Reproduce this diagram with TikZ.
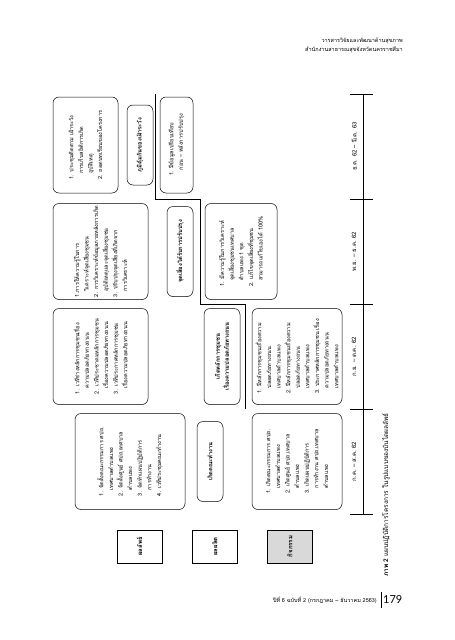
\documentclass[tikz,border=0pt]{standalone}
\usepackage{fontspec}
\newfontfamily\thai[Script=Thai]{Loma}
\newfontfamily\numfont{Lato}
\begin{document}
\begin{tikzpicture}[x=1pt,y=-1pt,
  rbox/.style={draw, rounded corners=6pt, rotate=90, inner sep=2pt, align=left, line width=0.5pt,
     font=\thai\fontsize{5.6}{9.6}\selectfont},
  hbox/.style={rbox, align=center, font=\thai\bfseries\fontsize{5.8}{9}\selectfont},
  lbox/.style={draw, rotate=90, inner sep=1pt, line width=0.5pt, font=\thai\bfseries\fontsize{6}{8}\selectfont},
  tl/.style={line width=0.6pt},
  tlab/.style={rotate=90, font=\thai\fontsize{6}{8}\selectfont, inner sep=0pt},
  stair/.style={line width=0.6pt}]
\useasboundingbox (0,0) rectangle (455,640);
\fill[white] (0,0) rectangle (455,640);

% header and footer
\node[anchor=north east, align=right, inner sep=0pt, font=\thai\fontsize{5.5}{9}\selectfont] (head) at (403,38)
  {วารสารวิจัยและพัฒนาด้านสุขภาพ\\สำนักงานสาธารณสุขจังหวัดนครราชสีมา};
\node[anchor=east, inner sep=0pt, font=\thai\fontsize{5.5}{7}\selectfont] (foot) at (377,600)
  {ปีที่ 6 ฉบับที่ 2 (กรกฎาคม – ธันวาคม 2563)};
\node[anchor=west, inner sep=0pt, font=\numfont\fontsize{11}{12}\selectfont] (page) at (383,600) {179};
\draw[line width=1pt] (381,592) -- (381,608);

% caption
\node[rotate=90, anchor=west, inner sep=0pt, font=\thai\fontsize{6.5}{8}\selectfont] (cap) at (386,577)
  {{\bfseries ภาพ 2} แผนปฏิบัติการโครงการ ในรูปแบบของบันไดผลลัพธ์};

% timeline
\coordinate (t0) at (363,94);
\coordinate (t1) at (363,199);
\coordinate (t2) at (363,304);
\coordinate (t3) at (363,409);
\coordinate (t4) at (363,514);
\draw[tl] (t0) -- (t4);
\foreach \c in {t0,t1,t2,t3,t4} \draw[tl] ([xshift=-13pt]\c) -- ([xshift=10pt]\c);
\node[tlab] (p4) at (354,146.5) {ธ.ค. 62 – มี.ค. 63};
\node[tlab] (p3) at (354,251.5) {พ.ย. – ธ.ค. 62};
\node[tlab] (p2) at (354,356.5) {ก.ย. – ต.ค. 62};
\node[tlab] (p1) at (354,461.5) {ก.ค. – ส.ค. 62};

% legend boxes
\node[lbox, minimum width=33pt, minimum height=45pt] (L1) at (139.5,546.5) {ผลลัพธ์};
\node[lbox, minimum width=33pt, minimum height=45pt] (L2) at (215,546.5) {ผลผลิต};
\node[lbox, fill=black!15, minimum width=33pt, minimum height=45pt] (L3) at (290,546.5) {กิจกรรม};

% period 4
\node[rbox, minimum width=96pt, minimum height=65pt] (A4) at (85.5,145)
 {1. ประชุมติดตาม เฝ้าระวัง\\ \quad การเก็บสถิติการเกิด\\ \quad อุบัติเหตุ\\2. ถอดบทเรียนของโครงการ};
\node[hbox, minimum width=80pt, minimum height=26pt] (H4) at (140,145) {ภูมิคุ้มกันของเฝ้าระวัง};
\node[rbox, minimum width=96pt, minimum height=33pt] (D4) at (176.5,145)
 {1. มีข้อมูลเปรียบเทียบ\\ \quad ก่อน – หลังการปรับปรุง};

% period 3
\node[rbox, minimum width=96pt, minimum height=95pt] (A3) at (100.5,251.5)
 {1.การให้ความรู้ในการ\\ \quad วิเคราะห์จุดเสี่ยงชุมชน\\2. การวิเคราะห์ข้อมูลภายหลังการเกิด\\ \quad อุบัติเหตุและจุดเสี่ยงชุมชน\\3. ปรับปรุงจุดเสี่ยงที่เกิดจาก\\ \quad การวิเคราะห์};
\node[hbox, minimum width=90pt, minimum height=26pt] (H3) at (180,251.5) {จุดเสี่ยงได้รับการปรับปรุง};
\node[rbox, minimum width=96pt, minimum height=72pt] (D3) at (241,251.5)
 {1. มีความรู้ในการวิเคราะห์\\ \quad จุดเสี่ยงชุมชนเทศบาล\\ \quad ตำบลแพง 1 ชุด\\2. แก้ไขจุดเสี่ยงที่ชุมชน\\ \quad สามารถแก้ไขเองได้ 100\%};

% period 2
\node[rbox, minimum width=96pt, minimum height=95pt] (A2) at (100.5,356.5)
 {1. เวทีร่างหลักการชุมชนเรื่อง\\ \quad ความปลอดภัยทางถนน\\2. เวทีประชาคมหลักการชุมชน\\ \quad เรื่องความปลอดภัยทางถนน\\3. เวทีประกาศหลักการชุมชน\\ \quad เรื่องความปลอดภัยทางถนน};
\node[hbox, minimum width=96pt, minimum height=36pt] (H2) at (222,356.5) {เกิดหลักการชุมชน\\เรื่องความปลอดภัยทางถนน};
\node[rbox, minimum width=96pt, minimum height=90pt] (D2) at (297,356.5)
 {1. มีหลักการชุมชนเรื่องความ\\ \quad ปลอดภัยทางถนน\\ \quad เทศบาลตำบลแพง\\2. มีหลักการชุมชนเรื่องความ\\ \quad ปลอดภัยทางถนน\\ \quad เทศบาลตำบลแพง\\3. ประกาศหลักการชุมชน เรื่อง\\ \quad ความปลอดภัยทางถนน\\ \quad เทศบาลตำบลแพง};

% period 1
\node[rbox, minimum width=96pt, minimum height=110pt] (A1) at (130,461.5)
 {1. จัดตั้งคณะกรรมการ ศปถ.\\ \quad เทศบาลตำบลแพง\\2. จัดตั้งศูนย์ ศปถ.เทศบาล\\ \quad ตำบลแพง\\3. จัดทำแผนปฏิบัติการ\\ \quad การทำงาน\\4. เวทีประชุมคณะทำงาน};
\node[hbox, minimum width=80pt, minimum height=26pt] (H1) at (210,461.5) {เกิดคณะทำงาน};
\node[rbox, minimum width=96pt, minimum height=90pt] (D1) at (297,461.5)
 {1. เกิดคณะกรรมการ ศปถ.\\ \quad เทศบาลตำบลแพง\\2. เกิดศูนย์ ศปถ.เทศบาล\\ \quad ตำบลแพง\\3. เกิดแผนปฏิบัติการ\\ \quad การทำงาน ศปถ.เทศบาล\\ \quad ตำบลแพง};

% stair line
\coordinate (s0) at (155,94);
\coordinate (s1) at (155,199);
\coordinate (s2) at (200,199);
\coordinate (s3) at (200,304);
\coordinate (s4) at (245,304);
\coordinate (s5) at (245,409);
\draw[stair] (s0) -- (s1) -- (s2) -- (s3) -- (s4) -- (s5);
\end{tikzpicture}
\end{document}
